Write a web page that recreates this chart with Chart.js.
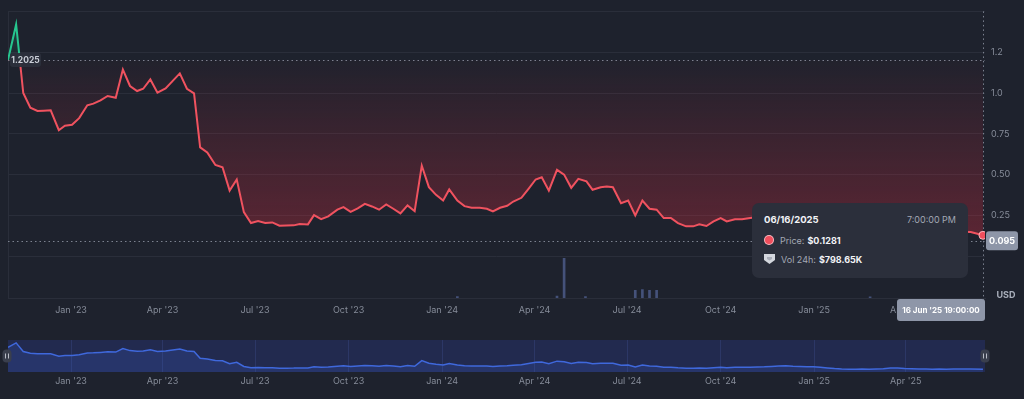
<!DOCTYPE html>
<html>
<head>
<meta charset="utf-8">
<script src="https://cdn.jsdelivr.net/npm/chart.js@4.4.1/dist/chart.umd.min.js"></script>
<style>
  html, body { margin: 0; padding: 0; background: #1e222d; }
  body { width: 1024px; height: 399px; position: relative; overflow: hidden; font-family: Inter, "Noto Sans", sans-serif; }
  #priceChart { position: absolute; left: 0; top: 0; }
  #navChart { position: absolute; left: 0; top: 330px; }
  #tip { position: absolute; left: 752px; top: 203px; width: 216px; height: 75px; background: #2b2f3b;
         border-radius: 7px; color: #a3a8b4; font-size: 9px; }
  #tip b { color: #f2f3f6; font-weight: 700; margin-left: 3px; }
  .tip-head { position: absolute; left: 12px; right: 12px; top: 11px; display: flex; justify-content: space-between; }
  #tipDate { color: #f2f3f6; font-weight: 700; font-size: 9.5px; }
  .tip-row { position: absolute; left: 12px; display: flex; align-items: center; height: 12px; }
  .dot { width: 8px; height: 8px; border-radius: 50%; background: #f04e5c; border: 1.5px solid rgba(255,205,210,0.85); margin-right: 6px; }
  .tip-row svg { margin-right: 6px; }
</style>
</head>
<body>
<canvas id="priceChart" width="1024" height="330"></canvas>
<canvas id="navChart" width="1024" height="69"></canvas>
<div id="tip">
  <div class="tip-head"><span id="tipDate"></span><span id="tipTime"></span></div>
  <div class="tip-row" style="top:31px"><span class="dot"></span>Price:<b id="tipPrice"></b></div>
  <div class="tip-row" style="top:50px">
    <svg width="11" height="10" viewBox="0 0 11 10"><path d="M0 0H11V6L5.5 10L0 6Z" fill="#d4d7de"/><path d="M3 3H8V5L5.5 6.5L3 5Z" fill="#a9adb8"/></svg>Vol 24h:<b id="tipVol"></b>
  </div>
</div>
<script>
// price history, x = days since 1 Jan 2023
const days = [
  -62, -54, -47, -40, -33, -27, -20, -12, -6, 1,
  8, 16, 22, 29, 36, 44, 51, 58, 65, 71,
  78, 85, 93, 107, 114, 121, 127, 134, 142, 149,
  156, 163, 170, 177, 184, 191, 198, 205, 212, 219,
  225, 233, 239, 246, 253, 262, 268, 275, 282, 289,
  296, 303, 310, 317, 324, 331, 338, 345, 352, 359,
  366, 372, 380, 387, 394, 402, 409, 415, 422, 429,
  435, 443, 450, 457, 463, 470, 478, 485, 492, 499,
  507, 513, 521, 527, 533, 541, 548, 555, 562, 569,
  576, 583, 590, 597, 605, 612, 618, 625, 632, 639,
  645, 653, 660, 668, 675, 682, 689, 696, 703, 710,
  717, 724, 730, 737, 744, 751, 758, 765, 772, 778,
  785, 792, 799, 806, 813, 820, 827, 834, 841, 847,
  854, 861, 868, 875, 885, 897
];
const prices = [
  1.2025, 1.42, 1.0, 0.91, 0.89, 0.892, 0.894, 0.772, 0.799, 0.805,
  0.846, 0.925, 0.935, 0.955, 0.982, 0.971, 1.144, 1.043, 1.012, 1.026,
  1.083, 1.002, 1.028, 1.12, 1.026, 0.998, 0.667, 0.636, 0.559, 0.545,
  0.402, 0.47, 0.27, 0.203, 0.215, 0.203, 0.207, 0.187, 0.188, 0.189,
  0.197, 0.195, 0.252, 0.227, 0.244, 0.285, 0.301, 0.272, 0.293, 0.321,
  0.305, 0.285, 0.317, 0.291, 0.262, 0.311, 0.276, 0.555, 0.423, 0.376,
  0.341, 0.409, 0.341, 0.307, 0.297, 0.297, 0.291, 0.274, 0.297, 0.309,
  0.335, 0.358, 0.413, 0.47, 0.484, 0.402, 0.529, 0.5, 0.419, 0.474,
  0.459, 0.407, 0.423, 0.427, 0.423, 0.325, 0.341, 0.25, 0.341, 0.291,
  0.285, 0.234, 0.234, 0.203, 0.183, 0.183, 0.195, 0.185, 0.213, 0.234,
  0.213, 0.226, 0.226, 0.234, 0.24, 0.25, 0.27, 0.29, 0.30, 0.28,
  0.27, 0.26, 0.25, 0.23, 0.20, 0.17, 0.15, 0.14, 0.14, 0.15,
  0.14, 0.15, 0.16, 0.19, 0.20, 0.17, 0.16, 0.15, 0.15, 0.14,
  0.15, 0.14, 0.15, 0.15, 0.148, 0.1281
];
// 24h volume, millions USD
const volDays = [380, 478, 485, 506, 555, 562, 569, 576, 786];
const volumes = [2, 2.5, 52, 2, 10, 11, 10, 10, 1.5];

const quarterDays = [0, 90, 181, 273, 365, 456, 547, 639, 731, 821];
const quarterLabels = ["Jan '23", "Apr '23", "Jul '23", "Oct '23", "Jan '24", "Apr '24", "Jul '24", "Oct '24", "Jan '25", "Apr '25"];
const yTickValues = [0, 0.25, 0.5, 0.75, 1.0, 1.25, 1.5];
const yTickLabels = ['', '0.25', '0.50', '0.75', '1.0', '1.2', ''];

const baseline = 1.2025;
const currentPrice = 0.095;
const hoverDate = '06/16/2025';
const hoverClock = '7:00:00 PM';
const hoverStamp = "16 Jun '25 19:00:00";
const hoverVolK = 798.65;

const upColor = '#26c68f';
const downColor = '#f0525f';
const last = prices.length - 1;

Chart.defaults.font.family = 'Inter, "Noto Sans", sans-serif';
Chart.defaults.font.size = 9;
Chart.defaults.color = '#868c99';

const pricePoints = days.map((d, i) => ({ x: d, y: prices[i] }));
const volPoints = volDays.map((d, i) => ({ x: d, y: volumes[i] }));

function splitStroke(context) {
  const chart = context.chart;
  const a = chart.chartArea;
  if (!a) return downColor;
  const yb = chart.scales.y.getPixelForValue(baseline);
  const t = Math.min(1, Math.max(0, (yb - a.top) / (a.bottom - a.top)));
  const g = chart.ctx.createLinearGradient(0, a.top, 0, a.bottom);
  g.addColorStop(0, upColor);
  g.addColorStop(t, upColor);
  g.addColorStop(t, downColor);
  g.addColorStop(1, downColor);
  return g;
}

function baselineFill(context) {
  const chart = context.chart;
  const a = chart.chartArea;
  if (!a) return 'rgba(0,0,0,0)';
  const y = chart.scales.y;
  const f = v => Math.min(1, Math.max(0, (y.getPixelForValue(v) - a.top) / (a.bottom - a.top)));
  const g = chart.ctx.createLinearGradient(0, a.top, 0, a.bottom);
  g.addColorStop(0, 'rgba(38,198,143,0.28)');
  g.addColorStop(f(baseline), 'rgba(38,198,143,0.02)');
  g.addColorStop(f(baseline), 'rgba(220,45,65,0.02)');
  g.addColorStop(f(Math.min(...prices)), 'rgba(220,45,65,0.32)');
  g.addColorStop(1, 'rgba(220,45,65,0.32)');
  return g;
}

function box(ctx, x, y, w, h, fill, text, color, size) {
  ctx.fillStyle = fill;
  ctx.beginPath();
  ctx.roundRect(x, y, w, h, 3);
  ctx.fill();
  ctx.fillStyle = color;
  ctx.font = 'bold ' + size + 'px Inter, sans-serif';
  ctx.textAlign = 'center';
  ctx.textBaseline = 'middle';
  ctx.fillText(text, x + w / 2, y + h / 2 + 0.5);
}

function dotted(ctx, x1, y1, x2, y2) {
  ctx.beginPath();
  ctx.moveTo(x1, y1);
  ctx.lineTo(x2, y2);
  ctx.stroke();
}

const mainOverlay = {
  id: 'mainOverlay',
  beforeDatasetsDraw(chart) {
    const { ctx, chartArea: a, scales: { x, y } } = chart;
    ctx.save();
    ctx.strokeStyle = '#2a2e3a';
    ctx.lineWidth = 1;
    dotted(ctx, a.left + 0.5, a.top, a.left + 0.5, a.bottom);
    ctx.strokeStyle = '#7c8290';
    ctx.setLineDash([1.5, 3]);
    const yb = Math.round(y.getPixelForValue(baseline)) + 0.5;
    dotted(ctx, a.left, yb, a.right, yb);
    const yp = Math.round(y.getPixelForValue(currentPrice)) + 0.5;
    dotted(ctx, a.left, yp, a.right, yp);
    const xc = Math.round(x.getPixelForValue(days[last])) + 0.5;
    dotted(ctx, xc, a.top, xc, a.bottom + 2);
    ctx.restore();
  },
  afterDraw(chart) {
    const { ctx, chartArea: a, scales: { y } } = chart;
    ctx.save();
    const yb = y.getPixelForValue(baseline);
    box(ctx, a.left + 2, yb - 7, 31, 14, 'rgba(44,48,60,0.95)', baseline.toFixed(4), '#c9cdd6', 8.5);
    const yp = y.getPixelForValue(currentPrice);
    box(ctx, a.right + 1, yp - 9.5, 32, 19, '#8e96a8', currentPrice.toFixed(3), '#ffffff', 9);
    box(ctx, a.right - 88, a.bottom + 1, 88, 22, '#8e96a8', hoverStamp, '#ffffff', 8);
    ctx.fillStyle = '#a9afbb';
    ctx.font = 'bold 9px Inter, sans-serif';
    ctx.textAlign = 'center';
    ctx.textBaseline = 'middle';
    ctx.fillText('USD', 1006, a.bottom - 3);
    ctx.restore();
  }
};

new Chart(document.getElementById('priceChart'), {
  type: 'line',
  data: {
    datasets: [{
      data: pricePoints,
      borderColor: splitStroke,
      borderWidth: 2,
      backgroundColor: baselineFill,
      fill: { value: baseline },
      tension: 0,
      pointRadius: c => (c.dataIndex === last ? 4 : 0),
      pointBackgroundColor: '#f04e5c',
      pointBorderColor: 'rgba(255,190,196,0.9)',
      pointBorderWidth: 1,
      pointHoverRadius: 0
    }, {
      type: 'bar',
      data: volPoints,
      yAxisID: 'yVol',
      backgroundColor: '#45527a',
      barThickness: 2
    }]
  },
  options: {
    responsive: false,
    animation: false,
    events: [],
    layout: { padding: { left: 8, top: 10, right: 0, bottom: 0 } },
    plugins: { legend: { display: false }, tooltip: { enabled: false } },
    scales: {
      x: {
        type: 'linear',
        offset: false,
        min: -62,
        max: 899,
        afterBuildTicks: s => { s.ticks = quarterDays.map(v => ({ value: v })); },
        afterFit: s => { s.height = 32; },
        ticks: {
          autoSkip: false,
          maxRotation: 0,
          padding: 7,
          color: '#868c99',
          callback: v => quarterLabels[quarterDays.indexOf(v)]
        },
        grid: { display: false, drawTicks: false, offset: false },
        border: { display: true, color: '#2a2e3a' }
      },
      y: {
        position: 'right',
        min: -0.256,
        max: 1.5,
        afterBuildTicks: s => { s.ticks = yTickValues.map(v => ({ value: v })); },
        afterFit: s => { s.width = 39; },
        ticks: {
          padding: 6,
          color: '#868c99',
          callback: v => yTickLabels[yTickValues.indexOf(v)]
        },
        grid: { color: '#2a2e3a', drawTicks: false },
        border: { display: false }
      },
      yVol: {
        display: false,
        min: 0,
        max: 375
      }
    }
  },
  plugins: [mainOverlay]
});

const navOverlay = {
  id: 'navOverlay',
  beforeDraw(chart) {
    const { ctx, chartArea: a } = chart;
    ctx.save();
    ctx.fillStyle = '#222a4f';
    ctx.fillRect(a.left, a.top, a.right - a.left, a.bottom - a.top);
    ctx.restore();
  },
  afterDraw(chart) {
    const { ctx, chartArea: a } = chart;
    const cy = (a.top + a.bottom) / 2;
    ctx.save();
    [a.left - 1, a.right].forEach(cx => {
      ctx.fillStyle = '#3a3f4d';
      ctx.beginPath();
      ctx.roundRect(cx - 4.5, cy - 6.5, 9, 13, 4);
      ctx.fill();
      ctx.strokeStyle = '#b8bcc6';
      ctx.lineWidth = 1;
      dotted(ctx, cx - 1.5, cy - 2.5, cx - 1.5, cy + 2.5);
      dotted(ctx, cx + 1.5, cy - 2.5, cx + 1.5, cy + 2.5);
    });
    ctx.restore();
  }
};

new Chart(document.getElementById('navChart'), {
  type: 'line',
  data: {
    datasets: [{
      data: pricePoints,
      borderColor: '#3f68dc',
      borderWidth: 1.5,
      backgroundColor: 'rgba(62,100,215,0.2)',
      fill: 'origin',
      tension: 0,
      pointRadius: 0
    }]
  },
  options: {
    responsive: false,
    animation: false,
    events: [],
    layout: { padding: { left: 8, top: 10, right: 39, bottom: 0 } },
    plugins: { legend: { display: false }, tooltip: { enabled: false } },
    scales: {
      x: {
        type: 'linear',
        min: -62,
        max: 899,
        afterBuildTicks: s => { s.ticks = quarterDays.map(v => ({ value: v })); },
        afterFit: s => { s.height = 27; },
        ticks: {
          autoSkip: false,
          maxRotation: 0,
          padding: 4,
          color: '#868c99',
          callback: v => quarterLabels[quarterDays.indexOf(v)]
        },
        grid: { color: '#2c3766', drawTicks: false },
        border: { display: false }
      },
      y: { display: false, min: 0, max: 1.56 }
    }
  },
  plugins: [navOverlay]
});

document.getElementById('tipDate').textContent = hoverDate;
document.getElementById('tipTime').textContent = hoverClock;
document.getElementById('tipPrice').textContent = '$' + prices[last].toFixed(4);
document.getElementById('tipVol').textContent = '$' + hoverVolK.toFixed(2) + 'K';
</script>
</body>
</html>
